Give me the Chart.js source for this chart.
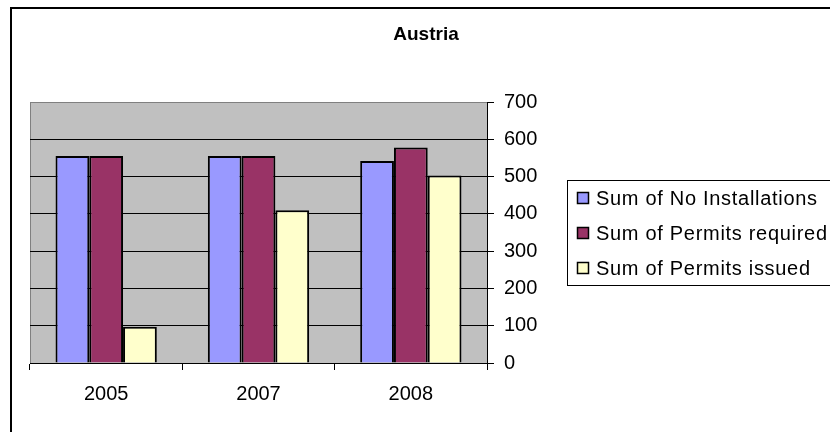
<!DOCTYPE html>
<html>
<head>
<meta charset="utf-8">
<title>Austria</title>
<script src="https://cdn.jsdelivr.net/npm/chart.js@4"></script>
<style>
  html, body { margin: 0; padding: 0; background: #fff; }
  #wrap { width: 830px; height: 432px; position: relative; }
</style>
</head>
<body>
<div id="wrap"><canvas id="austriaChart" width="830" height="432"></canvas></div>
<script>
// data
const years = ['2005', '2007', '2008'];
const noInstallations = [555, 555, 542];
const permitsRequired = [555, 555, 578];
const permitsIssued = [97, 410, 503];
const seriesNames = ['Sum of No Installations', 'Sum of Permits required', 'Sum of Permits issued'];
const seriesColors = ['#9999FF', '#993366', '#FFFFCC'];

const FONT = "'Liberation Sans', Arial, sans-serif";
Chart.defaults.font.family = FONT;
Chart.defaults.color = '#000';

// grey plot background, outer frame and title
const backdrop = {
    id: 'backdrop',
    beforeDraw(chart) {
        const ctx = chart.ctx;
        const a = chart.chartArea;
        ctx.save();
        ctx.fillStyle = '#fff';
        ctx.fillRect(0, 0, chart.width, chart.height);
        ctx.fillStyle = '#C0C0C0';
        ctx.fillRect(a.left, a.top, a.right - a.left, a.bottom - a.top);
        ctx.strokeStyle = '#808080';
        ctx.lineWidth = 1;
        ctx.strokeRect(a.left + 0.5, a.top + 0.5, a.right - a.left, a.bottom - a.top);
        ctx.strokeStyle = '#000';
        ctx.lineWidth = 2;
        ctx.strokeRect(11, 8, 840, 440);
        ctx.fillStyle = '#000';
        ctx.font = 'bold 19px ' + FONT;
        ctx.textAlign = 'center';
        ctx.textBaseline = 'middle';
        ctx.fillText('Austria', 426, 35);
        ctx.restore();
    }
};

// boxed legend to the right of the axis
const boxLegend = {
    id: 'boxLegend',
    afterDraw(chart) {
        const ctx = chart.ctx;
        ctx.save();
        ctx.strokeStyle = '#000';
        ctx.lineWidth = 1;
        ctx.strokeRect(567.5, 180.5, 280, 105);
        ctx.font = '20px ' + FONT;
        ctx.letterSpacing = '0.7px';
        ctx.textBaseline = 'middle';
        ctx.textAlign = 'left';
        chart.data.datasets.forEach((ds, i) => {
            const cy = 198 + i * 35;
            ctx.fillStyle = ds.backgroundColor;
            ctx.fillRect(577, cy - 6, 11, 11);
            ctx.strokeStyle = '#000';
            ctx.lineWidth = 1.5;
            ctx.strokeRect(577.5, cy - 5.5, 11, 11);
            ctx.fillStyle = '#000';
            ctx.fillText(ds.label, 596, cy + 1);
        });
        ctx.restore();
    }
};

new Chart(document.getElementById('austriaChart'), {
    type: 'bar',
    data: {
        labels: years,
        datasets: [noInstallations, permitsRequired, permitsIssued].map((vals, i) => ({
            label: seriesNames[i],
            data: vals,
            backgroundColor: seriesColors[i],
            borderColor: '#000',
            borderWidth: 2,
            categoryPercentage: 0.665,
            barPercentage: 1
        }))
    },
    options: {
        responsive: false,
        animation: false,
        layout: { padding: { left: 30, top: 102, right: 0, bottom: 0 } },
        plugins: {
            legend: { display: false },
            title: { display: false },
            tooltip: { enabled: false }
        },
        scales: {
            x: {
                offset: true,
                grid: {
                    offset: true,
                    drawOnChartArea: false,
                    tickLength: 7,
                    color: '#000'
                },
                border: { color: '#000', width: 1 },
                ticks: { font: { size: 20 }, padding: 12, color: '#000' },
                afterFit(scale) { scale.height = 69; }
            },
            y: {
                position: 'right',
                min: 0,
                max: 700,
                grid: {
                    color: c => c.tick && c.tick.value === 700 ? '#808080' : '#000',
                    tickColor: '#000',
                    tickLength: 7
                },
                border: { color: '#000', width: 1 },
                ticks: { stepSize: 100, font: { size: 20 }, padding: 10, color: '#000' },
                afterFit(scale) { scale.width = 343; }
            }
        }
    },
    plugins: [backdrop, boxLegend]
});
</script>
</body>
</html>
